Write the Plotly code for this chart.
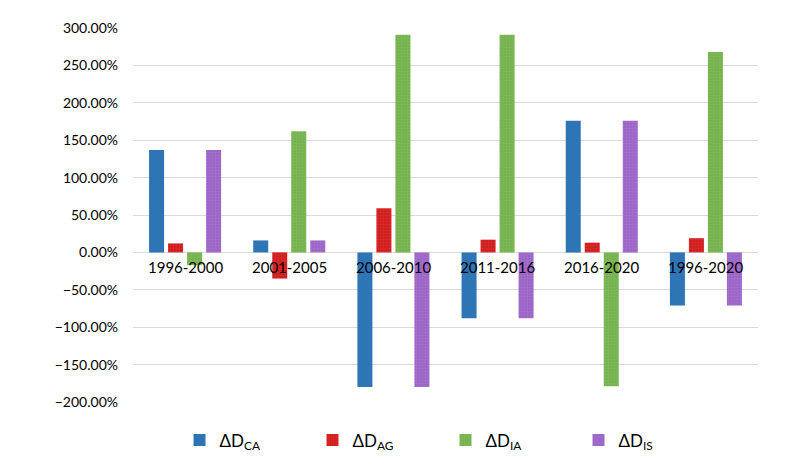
import plotly.graph_objects as go

categories = ["1996-2000", "2001-2005", "2006-2010", "2011-2016", "2016-2020", "1996-2020"]
series_names = ["ΔD<sub>CA</sub>", "ΔD<sub>AG</sub>", "ΔD<sub>IA</sub>", "ΔD<sub>IS</sub>"]
d_ca = [1.37, 0.16, -1.80, -0.88, 1.76, -0.71]
d_ag = [0.12, -0.35, 0.59, 0.17, 0.13, 0.19]
d_ia = [-0.17, 1.62, 2.91, 2.91, -1.79, 2.68]
d_is = [1.37, 0.16, -1.80, -0.88, 1.76, -0.71]
y_ticks = [-2.0, -1.5, -1.0, -0.5, 0.0, 0.5, 1.0, 1.5, 2.0, 2.5, 3.0]

colors = ["#2E75B6", "#D01E1E", "#76B34E", "#9B64C6"]
patterns = [None, "+", "+", "+"]
pattern_fg = [None, "#E84040", "#8CC466", "#B088D8"]

fig = go.Figure()
for name, vals, col, pat, fg in zip(series_names, [d_ca, d_ag, d_ia, d_is], colors, patterns, pattern_fg):
    marker = dict(color=col, line=dict(width=0))
    if pat:
        marker["pattern"] = dict(shape=pat, size=3, solidity=0.3, fgcolor=fg, bgcolor=col, fillmode="overlay")
    fig.add_trace(go.Bar(x=categories, y=vals, name=name, marker=marker))

for c in categories:
    fig.add_annotation(x=c, y=0, xref="x", yref="y", text=c, showarrow=False,
                       yanchor="top", yshift=-4, font=dict(family="Lato", size=15, color="#000000"))

fig.update_layout(
    width=807, height=473,
    margin=dict(l=125, r=57, t=20, b=79, autoexpand=False),
    paper_bgcolor="white", plot_bgcolor="white",
    barmode="group", bargap=0.27, bargroupgap=0.21,
    font=dict(family="Lato", size=13, color="#000000"),
    showlegend=True,
    legend=dict(orientation="h", x=0.5, xanchor="center", y=-0.055, yanchor="top",
                font=dict(family="Lato", size=17), entrywidth=88, entrywidthmode="pixels",
                traceorder="normal"),
)
fig.update_xaxes(showticklabels=False, showgrid=False, zeroline=False, showline=False)
fig.update_yaxes(range=[-2.0, 3.0], tickvals=y_ticks, tickformat=".2%",
                 showgrid=True, gridcolor="#D9D9D9", gridwidth=1,
                 zeroline=True, zerolinecolor="#D9D9D9", zerolinewidth=1,
                 showline=False, ticklabelstandoff=14, tickfont=dict(family="Lato", size=14))

fig.write_html("out.html")
